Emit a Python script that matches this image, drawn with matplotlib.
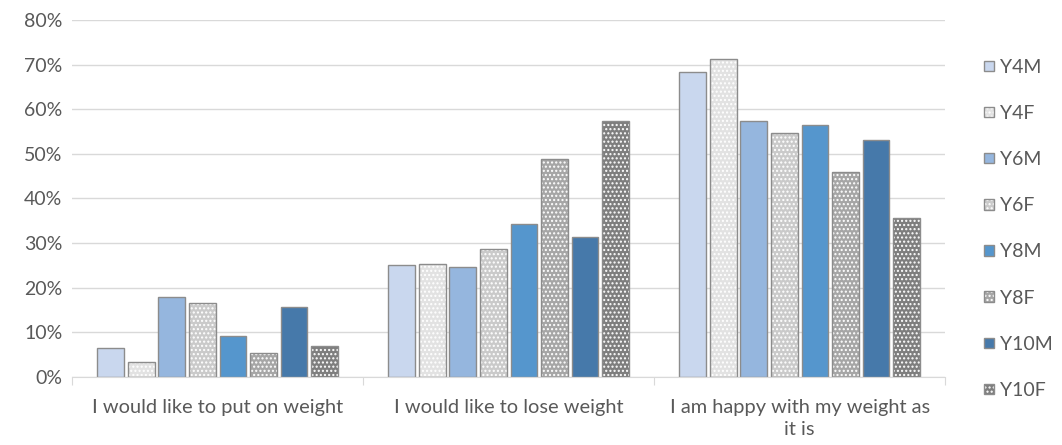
import matplotlib.pyplot as plt
import numpy as np

# --- data ---
categorias = ["I would like to put on weight", "I would like to lose weight",
              "I am happy with my weight as\nit is"]
series = ["Y4M", "Y4F", "Y6M", "Y6F", "Y8M", "Y8F", "Y10M", "Y10F"]
y4m = [6.5, 25.1, 68.4]
y4f = [3.4, 25.3, 71.3]
y6m = [18.0, 24.7, 57.3]
y6f = [16.6, 28.7, 54.6]
y8m = [9.2, 34.3, 56.5]
y8f = [5.4, 48.8, 45.9]
y10m = [15.7, 31.3, 53.2]
y10f = [7.0, 57.3, 35.7]
valores = [y4m, y4f, y6m, y6f, y8m, y8f, y10m, y10f]

cores = ['#c9d7ee', '#e2e2e2', '#95b6de', '#cacaca', '#5596cd', '#a6a6a6', '#4679aa', '#7e7e7e']
padrao = [False, True, False, True, False, True, False, True]

plt.rcParams['font.family'] = ['Lato', 'DejaVu Sans']
plt.rcParams['hatch.linewidth'] = 1.0

fig = plt.figure(figsize=(10.62, 4.45), dpi=100)
ax = fig.add_axes([0.068, 0.153, 0.822, 0.802])

x = np.arange(len(categorias))
passo = 0.105
largura = 0.092
handles = []
for i, (nome, v) in enumerate(zip(series, valores)):
    pos = x + (i - 3.5) * passo
    if padrao[i]:
        b1 = ax.bar(pos, v, largura, color=cores[i], hatch='....', edgecolor='white', linewidth=0)
        b2 = ax.bar(pos, v, largura, fill=False, edgecolor='#8c8c8c', linewidth=1.0)
        handles.append((b1, b2))
    else:
        b = ax.bar(pos, v, largura, color=cores[i], edgecolor='#8c8c8c', linewidth=1.0)
        handles.append(b)

ax.set_ylim(0, 80)
ax.set_xlim(-0.5, 2.5)
ax.set_yticks(range(0, 81, 10))
ax.set_yticklabels([f"{t}%" for t in range(0, 81, 10)])
ax.yaxis.grid(True, color='#d9d9d9', linewidth=1)
ax.set_axisbelow(True)
ax.tick_params(axis='y', length=0, labelsize=14, labelcolor='#595959', pad=7)

# category ticks between groups
ax.set_xticks([-0.5, 0.5, 1.5, 2.5])
ax.set_xticklabels([])
ax.set_xticks(x, minor=True)
ax.set_xticklabels(categorias, minor=True, linespacing=1.35)
ax.tick_params(axis='x', which='major', length=6, color='#d9d9d9')
ax.tick_params(axis='x', which='minor', length=0, labelsize=14.4, labelcolor='#595959', pad=16)

for lado in ['top', 'right', 'left']:
    ax.spines[lado].set_visible(False)
ax.spines['bottom'].set_color('#d9d9d9')

leg = fig.legend(handles, series, loc='upper left', bbox_to_anchor=(0.927, 0.868),
                 frameon=False, fontsize=14, labelspacing=1.5, handlelength=0.5,
                 handleheight=0.45, handletextpad=0.3, borderpad=0, borderaxespad=0)
for t in leg.get_texts():
    t.set_color('#595959')

fig.savefig('out.png', dpi=100)
